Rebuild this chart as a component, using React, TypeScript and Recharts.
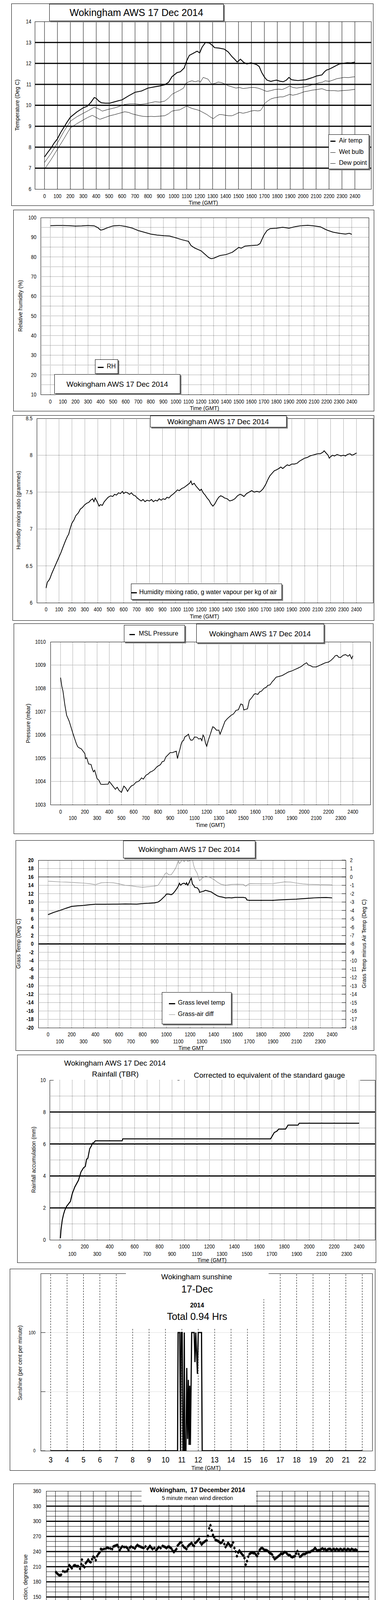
import React from 'react';
import { ComposedChart, Line, Scatter, XAxis, YAxis, ReferenceLine } from 'recharts';

const SANS = "'Liberation Sans',Arial,Helvetica,sans-serif";
const NARROW_SCALE = 0.82;

type P = [number, number];

function steps(a: number, b: number, s: number): number[] {
  const out: number[] = [];
  for (let i = 0; a + i * s <= b + 1e-9; i++) out.push(Math.round((a + i * s) * 1000) / 1000);
  return out;
}

// ---------- tick / grid positions ----------
const HUNDREDS = steps(0, 2400, 100);
const TEMP_TICKS = steps(6, 14, 1);
const TEMP_THICK = steps(7, 13, 1);
const RH_TICKS = steps(10, 100, 10);
const RH_GRID = steps(15, 95, 5);
const MIX_TICKS = steps(6, 8.5, 0.5);
const MIX_GRID = steps(6.5, 8, 0.5);
const PRES_TICKS = steps(1003, 1010, 1);
const PRES_GRID = steps(1004, 1009, 1);
const GRASS_TICKS = steps(-20, 20, 2);
const GRASS_GRID = steps(-18, 18, 2);
const DIFF_TICKS = steps(-18, 2, 1);
const RAIN_TICKS = steps(0, 10, 2);
const RAIN_THICK = [2, 4, 6, 8];
const RAIN_DOTTED = [1, 3, 5, 7, 9];
const SUN_HOURS = steps(3, 22, 1);
const SUN_TICKS = [0, 50, 100];
const DIR_HOURS = steps(0, 24, 1);
const DIR_TICKS = steps(0, 360, 30);
const DIR_THIN = steps(10, 350, 10);
const DIR_THICK = steps(30, 330, 30);
const SPD_HOURS = steps(0, 23, 1);
const SPD_GRID_HOURS = steps(0, 24, 1);
const SPD_TICKS = steps(0, 50, 10);
const SPD_GRID = steps(5, 45, 5);

// ---------- data ----------
const AIR_TEMP: P[] = [[0,7.53],[25,7.75],[50,7.95],[75,8.2],[100,8.4],[125,8.7],[150,8.95],[175,9.2],[200,9.43],[250,9.68],[300,9.88],[330,9.95],[360,10.15],[385,10.37],[400,10.33],[420,10.2],[440,10.12],[470,10.1],[505,10.1],[550,10.18],[600,10.26],[650,10.45],[700,10.62],[750,10.68],[800,10.82],[850,10.88],[890,10.92],[930,10.98],[960,11.1],[985,11.36],[1025,11.56],[1050,11.6],[1080,11.78],[1100,12.13],[1120,12.38],[1150,12.48],[1180,12.58],[1200,12.5],[1218,12.77],[1245,13.0],[1275,12.97],[1300,12.85],[1315,12.75],[1350,12.73],[1390,12.68],[1420,12.55],[1450,12.32],[1470,12.2],[1490,12.06],[1515,12.2],[1540,12.05],[1565,11.97],[1595,12.03],[1620,11.98],[1640,11.94],[1660,11.85],[1680,11.56],[1700,11.35],[1720,11.2],[1750,11.14],[1775,11.18],[1795,11.2],[1820,11.15],[1845,11.12],[1870,11.2],[1890,11.33],[1910,11.22],[1930,11.2],[1960,11.18],[1990,11.2],[2020,11.22],[2045,11.27],[2075,11.33],[2105,11.4],[2145,11.45],[2165,11.6],[2180,11.68],[2200,11.72],[2220,11.78],[2250,11.88],[2280,11.97],[2310,12.0],[2340,12.03],[2370,12.02],[2400,12.06]];
const WET_BULB: P[] = [[0,7.27],[50,7.7],[100,8.2],[150,8.75],[200,9.24],[250,9.45],[300,9.62],[340,9.75],[385,9.91],[420,9.82],[447,9.72],[490,9.8],[545,9.88],[580,9.95],[620,10.04],[660,10.07],[700,10.07],[740,10.04],[780,10.07],[820,10.12],[855,10.17],[890,10.15],[930,10.2],[960,10.35],[985,10.52],[1015,10.62],[1045,10.71],[1075,10.82],[1092,11.04],[1115,11.12],[1140,11.17],[1165,11.12],[1190,11.17],[1205,11.1],[1227,11.33],[1250,11.28],[1266,11.24],[1280,11.1],[1295,11.01],[1320,11.05],[1343,11.11],[1370,11.08],[1400,11.0],[1425,10.92],[1450,10.88],[1480,10.82],[1507,10.85],[1535,10.8],[1565,10.82],[1595,10.85],[1622,10.85],[1650,10.82],[1680,10.76],[1700,10.7],[1720,10.66],[1750,10.7],[1780,10.75],[1810,10.77],[1837,10.75],[1865,10.82],[1895,10.92],[1920,10.85],[1950,10.82],[1980,10.85],[2010,10.88],[2040,10.92],[2068,10.98],[2100,11.03],[2125,11.08],[2150,11.1],[2170,11.17],[2200,11.14],[2230,11.2],[2260,11.27],[2290,11.3],[2315,11.33],[2350,11.32],[2380,11.35],[2400,11.36]];
const DEW_POINT: P[] = [[0,6.95],[50,7.4],[100,7.9],[150,8.4],[200,8.92],[250,9.12],[300,9.3],[335,9.42],[370,9.52],[400,9.42],[428,9.33],[470,9.42],[505,9.5],[540,9.55],[580,9.62],[620,9.69],[650,9.66],[678,9.59],[710,9.54],[735,9.5],[765,9.47],[795,9.46],[825,9.47],[850,9.46],[890,9.48],[930,9.5],[960,9.6],[985,9.72],[1015,9.76],[1045,9.78],[1075,9.88],[1100,9.97],[1120,9.9],[1140,9.85],[1170,9.8],[1198,9.75],[1225,9.66],[1255,9.56],[1280,9.45],[1305,9.36],[1330,9.48],[1352,9.56],[1375,9.55],[1400,9.52],[1425,9.5],[1450,9.5],[1480,9.58],[1507,9.66],[1535,9.62],[1565,9.66],[1595,9.72],[1622,9.75],[1650,9.73],[1670,9.75],[1685,9.88],[1700,10.07],[1725,10.2],[1750,10.3],[1775,10.35],[1795,10.37],[1820,10.4],[1845,10.4],[1870,10.46],[1895,10.52],[1920,10.48],[1950,10.52],[1980,10.58],[2010,10.65],[2040,10.68],[2068,10.72],[2105,10.75],[2145,10.79],[2160,10.76],[2180,10.71],[2210,10.7],[2240,10.7],[2270,10.68],[2300,10.7],[2350,10.72],[2400,10.76]];

const RH: P[] = [[0,95.9],[50,96.0],[100,96.0],[150,95.9],[200,95.7],[250,95.8],[300,96.0],[350,95.8],[380,94.8],[400,93.6],[420,93.9],[450,94.7],[500,95.8],[550,96.0],[600,95.5],[650,94.7],[700,93.4],[750,92.5],[800,91.6],[850,91.1],[900,90.8],[950,90.6],[1000,89.7],[1050,88.7],[1100,87.9],[1120,85.8],[1150,84.5],[1200,83.1],[1230,81.4],[1260,79.7],[1280,79.1],[1300,79.3],[1350,80.7],[1400,81.2],[1450,82.4],[1500,84.8],[1520,84.4],[1550,85.5],[1600,85.8],[1650,86.0],[1670,86.8],[1700,91.0],[1725,93.4],[1750,94.4],[1800,94.6],[1850,95.1],[1900,94.6],[1950,95.4],[2000,95.9],[2050,96.1],[2100,95.8],[2150,95.3],[2200,93.7],[2250,92.6],[2300,92.0],[2350,91.6],[2380,92.0],[2400,91.5]];

const MIXING: P[] = [[0,6.2],[10,6.28],[20,6.3],[30,6.33],[45,6.4],[60,6.46],[75,6.52],[90,6.58],[100,6.62],[115,6.68],[130,6.75],[150,6.84],[165,6.9],[175,6.93],[185,7.0],[200,7.08],[215,7.12],[230,7.18],[250,7.22],[265,7.27],[280,7.29],[300,7.33],[315,7.35],[330,7.36],[345,7.39],[360,7.41],[370,7.37],[380,7.42],[392,7.38],[400,7.35],[410,7.31],[420,7.33],[435,7.32],[450,7.37],[465,7.4],[480,7.43],[500,7.45],[515,7.44],[530,7.47],[545,7.46],[560,7.49],[575,7.48],[590,7.51],[600,7.48],[615,7.5],[630,7.49],[645,7.47],[660,7.49],[675,7.46],[690,7.45],[705,7.42],[720,7.4],[735,7.38],[750,7.4],[765,7.37],[780,7.39],[800,7.38],[815,7.4],[830,7.37],[845,7.39],[860,7.38],[875,7.41],[890,7.39],[905,7.41],[920,7.4],[935,7.43],[950,7.42],[965,7.45],[980,7.47],[1000,7.5],[1015,7.53],[1030,7.52],[1050,7.55],[1065,7.56],[1080,7.58],[1095,7.6],[1110,7.62],[1120,7.65],[1130,7.6],[1145,7.62],[1160,7.58],[1175,7.55],[1190,7.52],[1200,7.54],[1215,7.49],[1230,7.46],[1245,7.42],[1260,7.39],[1275,7.34],[1290,7.31],[1305,7.34],[1320,7.39],[1335,7.43],[1350,7.45],[1365,7.44],[1380,7.42],[1400,7.41],[1420,7.38],[1440,7.39],[1460,7.41],[1480,7.45],[1500,7.47],[1515,7.46],[1530,7.44],[1550,7.48],[1570,7.5],[1590,7.52],[1610,7.5],[1630,7.51],[1650,7.5],[1665,7.52],[1680,7.55],[1700,7.61],[1715,7.67],[1730,7.72],[1750,7.76],[1765,7.79],[1780,7.8],[1800,7.82],[1815,7.84],[1830,7.82],[1850,7.85],[1865,7.87],[1880,7.86],[1900,7.88],[1920,7.88],[1940,7.89],[1960,7.92],[1980,7.94],[2000,7.96],[2020,7.97],[2040,7.99],[2060,8.0],[2080,8.01],[2100,8.02],[2120,8.02],[2140,8.04],[2150,8.06],[2165,8.03],[2180,8.0],[2190,7.96],[2200,7.98],[2215,8.0],[2230,7.99],[2250,8.01],[2265,8.0],[2280,7.99],[2300,8.0],[2315,7.99],[2330,8.01],[2350,8.02],[2365,8.0],[2380,8.01],[2400,8.03]];

const PRESSURE: P[] = [[0,1008.46],[10,1008.1],[20,1007.88],[35,1007.3],[50,1006.84],[60,1006.72],[70,1006.6],[85,1006.35],[100,1006.09],[115,1005.85],[130,1005.62],[140,1005.5],[150,1005.45],[170,1005.4],[185,1005.3],[200,1005.19],[205,1004.98],[215,1005.02],[230,1004.75],[250,1004.73],[260,1004.55],[270,1004.41],[280,1004.48],[300,1004.12],[315,1004.05],[330,1003.88],[350,1003.87],[370,1003.88],[390,1003.88],[400,1004.0],[415,1003.9],[430,1003.8],[450,1003.66],[465,1003.75],[480,1003.62],[500,1003.53],[520,1003.8],[535,1003.72],[550,1003.57],[565,1003.7],[580,1003.8],[600,1003.85],[620,1003.97],[640,1004.0],[650,1004.05],[665,1004.15],[680,1004.1],[700,1004.26],[720,1004.32],[735,1004.4],[750,1004.43],[770,1004.5],[790,1004.62],[800,1004.66],[820,1004.72],[835,1004.85],[850,1004.87],[865,1005.05],[880,1005.13],[900,1005.24],[920,1005.24],[940,1005.28],[950,1005.3],[960,1004.98],[970,1005.2],[980,1005.38],[990,1005.6],[1000,1005.73],[1010,1005.76],[1020,1005.91],[1040,1005.98],[1050,1006.03],[1060,1005.85],[1070,1005.77],[1085,1005.78],[1100,1005.91],[1120,1005.9],[1135,1005.82],[1150,1005.85],[1160,1005.75],[1170,1006.0],[1180,1005.9],[1190,1005.65],[1200,1005.51],[1215,1005.8],[1230,1006.03],[1240,1006.2],[1250,1006.35],[1265,1006.3],[1280,1006.2],[1300,1006.2],[1310,1006.03],[1330,1006.3],[1350,1006.58],[1370,1006.7],[1400,1006.84],[1420,1006.9],[1440,1007.05],[1460,1007.08],[1480,1007.33],[1495,1007.3],[1505,1007.07],[1520,1007.1],[1535,1007.12],[1550,1007.48],[1570,1007.6],[1590,1007.75],[1600,1007.77],[1620,1007.74],[1635,1007.85],[1650,1007.88],[1670,1008.0],[1690,1008.05],[1700,1008.12],[1720,1008.15],[1740,1008.3],[1750,1008.35],[1770,1008.48],[1800,1008.52],[1820,1008.55],[1850,1008.64],[1870,1008.7],[1900,1008.75],[1920,1008.8],[1950,1008.87],[1980,1008.95],[2000,1009.04],[2020,1009.1],[2035,1009.0],[2050,1008.98],[2070,1008.92],[2100,1008.92],[2125,1008.98],[2150,1009.04],[2175,1009.1],[2200,1009.13],[2220,1009.2],[2240,1009.3],[2255,1009.4],[2270,1009.42],[2285,1009.33],[2300,1009.33],[2320,1009.42],[2340,1009.45],[2360,1009.38],[2375,1009.45],[2390,1009.27],[2400,1009.4]];

const GRASS: P[] = [[0,7.0],[50,7.55],[100,8.0],[150,8.5],[200,8.96],[250,9.1],[300,9.2],[350,9.36],[400,9.48],[450,9.47],[500,9.48],[550,9.5],[600,9.5],[650,9.55],[700,9.52],[750,9.5],[800,9.64],[850,9.7],[900,9.8],[930,10.0],[950,10.4],[970,10.95],[990,11.5],[1000,11.92],[1020,11.9],[1040,11.75],[1055,12.0],[1070,12.5],[1090,13.3],[1100,13.8],[1110,14.5],[1120,14.0],[1135,14.4],[1150,14.5],[1165,14.2],[1170,14.6],[1180,14.0],[1195,14.8],[1200,15.2],[1210,15.7],[1220,14.3],[1230,14.0],[1240,13.5],[1260,13.4],[1275,12.9],[1280,12.3],[1300,12.5],[1315,12.6],[1330,12.8],[1350,12.65],[1380,12.4],[1400,12.0],[1430,11.5],[1450,11.3],[1470,11.2],[1500,11.0],[1530,11.05],[1550,11.0],[1580,11.1],[1600,11.1],[1650,11.1],[1670,11.0],[1680,10.5],[1700,10.4],[1800,10.4],[1900,10.4],[1950,10.5],[2000,10.57],[2100,10.7],[2150,10.8],[2200,10.9],[2250,11.0],[2300,11.06],[2350,11.08],[2400,11.0]];
const GRASS_DIFF: P[] = [[0,-0.51],[50,-0.55],[100,-0.6],[150,-0.62],[200,-0.65],[250,-0.7],[300,-0.74],[350,-0.8],[400,-0.92],[450,-0.7],[500,-0.67],[550,-0.7],[600,-0.83],[650,-1.0],[700,-1.06],[750,-1.16],[800,-1.23],[850,-1.16],[900,-1.1],[930,-1.0],[950,-0.54],[970,-0.13],[985,0.3],[1000,0.52],[1020,0.25],[1040,0.25],[1060,0.64],[1080,1.1],[1100,1.92],[1110,1.6],[1120,1.75],[1135,2.1],[1150,1.8],[1165,2.1],[1180,1.85],[1200,1.95],[1220,2.1],[1230,1.4],[1240,0.93],[1260,0.44],[1280,-0.46],[1300,-0.18],[1330,0.11],[1360,-0.02],[1400,-0.3],[1430,-0.62],[1460,-0.87],[1500,-1.0],[1550,-0.9],[1600,-0.87],[1650,-0.9],[1670,-1.11],[1700,-0.79],[1750,-0.8],[1800,-0.8],[1900,-0.79],[2000,-0.59],[2050,-0.62],[2100,-0.74],[2150,-0.83],[2200,-0.88],[2300,-0.92],[2400,-0.95]];

const RAIN: P[] = [[5,0.1],[10,0.64],[20,1.24],[30,1.59],[40,1.85],[55,2.1],[70,2.25],[85,2.4],[100,2.88],[120,3.3],[150,3.73],[170,4.25],[190,4.5],[205,4.6],[215,5.05],[225,5.1],[240,5.7],[255,5.9],[262,6.05],[275,6.1],[285,6.2],[500,6.2],[505,6.32],[1690,6.32],[1700,6.45],[1720,6.72],[1740,6.8],[1755,6.93],[1810,6.93],[1820,7.05],[1830,7.18],[1910,7.18],[1920,7.3],[2400,7.3]];

const SUNSHINE: P[] = [[3,0],[10.74,0],[10.75,42],[10.77,100],[10.87,100],[10.92,0],[10.96,100],[11.02,100],[11.07,0],[11.12,0],[11.15,100],[11.18,0],[11.25,0],[11.3,70],[11.35,10],[11.4,60],[11.44,5],[11.48,55],[11.52,5],[11.6,100],[11.75,100],[11.8,75],[11.85,100],[11.95,65],[12.0,100],[12.2,100],[12.21,72],[12.24,0],[22,0]];

const WIND_DIR: P[] = [[0.05,199],[0.15,196],[0.25,194],[0.35,193],[0.45,194],[0.6,201],[0.75,200],[0.9,201],[1.0,205],[1.1,213],[1.2,210],[1.3,207],[1.45,212],[1.55,213],[1.7,211],[1.8,211],[1.95,206],[2.05,215],[2.1,224],[2.2,212],[2.3,209],[2.4,217],[2.5,220],[2.6,224],[2.7,220],[2.8,219],[2.9,225],[3.0,230],[3.1,228],[3.2,223],[3.3,231],[3.4,235],[3.5,238],[3.6,245],[3.7,244],[3.85,245],[4.0,246],[4.1,248],[4.2,247],[4.35,246],[4.5,245],[4.6,250],[4.7,251],[4.8,252],[4.9,253],[5.0,249],[5.1,243],[5.2,247],[5.3,250],[5.45,249],[5.6,249],[5.7,247],[5.8,243],[5.9,248],[6.0,250],[6.15,248],[6.3,246],[6.4,250],[6.5,253],[6.6,251],[6.7,250],[6.8,249],[6.9,248],[7.0,247],[7.15,250],[7.3,245],[7.4,248],[7.5,251],[7.6,248],[7.7,245],[7.85,247],[8.0,243],[8.1,246],[8.2,249],[8.35,247],[8.5,251],[8.6,250],[8.7,249],[8.8,247],[8.9,249],[9.0,250],[9.1,248],[9.2,246],[9.3,242],[9.4,239],[9.5,242],[9.6,245],[9.7,252],[9.8,255],[9.9,258],[10.0,258],[10.1,252],[10.2,249],[10.3,247],[10.4,245],[10.5,250],[10.6,253],[10.7,255],[10.8,257],[10.9,253],[11.0,251],[11.1,257],[11.2,259],[11.3,262],[11.4,265],[11.5,258],[11.6,254],[11.7,257],[11.8,259],[11.9,261],[12.0,262],[12.1,271],[12.2,286],[12.3,292],[12.4,282],[12.5,273],[12.6,268],[12.7,263],[12.8,262],[12.9,261],[13.0,259],[13.1,257],[13.2,258],[13.3,262],[13.4,255],[13.5,249],[13.6,253],[13.7,257],[13.8,254],[13.9,250],[14.0,253],[14.1,258],[14.2,247],[14.3,240],[14.4,231],[14.5,238],[14.6,242],[14.7,238],[14.8,235],[14.9,232],[15.0,227],[15.1,214],[15.2,221],[15.3,230],[15.4,235],[15.5,237],[15.6,238],[15.7,237],[15.8,237],[15.9,234],[16.0,231],[16.1,236],[16.2,243],[16.3,246],[16.4,247],[16.5,245],[16.6,243],[16.7,243],[16.8,242],[16.9,240],[17.0,237],[17.1,236],[17.2,234],[17.3,229],[17.4,225],[17.5,227],[17.6,229],[17.7,231],[17.8,233],[17.9,236],[18.0,235],[18.1,237],[18.2,239],[18.3,238],[18.4,235],[18.5,233],[18.6,233],[18.7,230],[18.8,229],[18.9,230],[19.0,231],[19.1,236],[19.2,241],[19.3,235],[19.4,230],[19.5,231],[19.6,234],[19.7,235],[19.8,235],[19.9,237],[20.0,238],[20.1,239],[20.2,239],[20.3,241],[20.4,242],[20.5,244],[20.6,247],[20.7,244],[20.8,242],[20.9,243],[21.0,243],[21.1,245],[21.2,246],[21.3,244],[21.4,245],[21.5,242],[21.6,244],[21.7,245],[21.8,245],[21.9,243],[22.0,244],[22.1,245],[22.2,243],[22.3,245],[22.4,244],[22.5,243],[22.6,245],[22.7,244],[22.8,243],[22.9,245],[23.0,244],[23.1,243],[23.2,245],[23.3,244],[23.4,243],[23.5,245],[23.6,244],[23.7,243],[23.8,244],[23.9,243]];

const WIND_MEAN: P[] = [[0.0,9.0],[0.2,9.3],[0.3,10.5],[0.5,10.2],[0.7,11.6],[0.9,12.2],[1.0,11.6],[1.2,11.5],[1.4,11.6],[1.6,12.5],[1.8,11.6],[2.0,9.9],[2.2,9.3],[2.4,8.7],[2.6,9.3],[2.8,9.0],[3.0,9.9],[3.2,9.3],[3.4,8.9],[3.6,8.7],[3.8,9.9],[4.0,10.5],[4.2,11.1],[4.4,11.5],[4.6,11.1],[4.8,10.5],[5.0,10.2],[5.2,9.6],[5.4,9.1],[5.6,8.7],[5.8,9.3],[6.0,9.9],[6.2,10.2],[6.4,10.2],[6.6,9.9],[6.8,9.3],[7.0,9.6],[7.2,9.1],[7.4,8.7],[7.6,8.5],[7.8,8.7],[8.0,9.0],[8.2,8.1],[8.4,7.5],[8.6,7.7],[8.8,7.8],[9.0,7.5],[9.2,7.8],[9.4,8.7],[9.6,9.6],[9.8,9.9],[10.0,9.0],[10.2,7.5],[10.4,7.8],[10.6,9.3],[10.8,10.2],[11.0,10.2],[11.2,10.8],[11.4,8.7],[11.6,9.9],[11.8,12.8],[12.0,13.1],[12.2,10.8],[12.4,7.2],[12.6,5.8],[12.8,8.7],[13.0,7.2],[13.2,9.3],[13.4,6.6],[13.6,5.1],[13.8,4.9],[14.0,6.1],[14.2,5.5],[14.4,4.6],[14.6,5.5],[14.8,6.1],[15.0,5.8],[15.2,4.9],[15.4,3.7],[15.6,4.6],[15.8,6.4],[16.0,6.9],[16.2,7.5],[16.4,7.8],[16.6,7.5],[16.8,7.2],[17.0,8.1],[17.2,9.0],[17.4,8.4],[17.6,7.2],[17.8,6.9],[18.0,4.9],[18.2,5.5],[18.4,6.6],[18.6,7.8],[18.8,8.7],[19.0,9.0],[19.2,9.9],[19.4,10.5],[19.6,9.9],[19.8,9.6],[20.0,9.3],[20.2,9.0],[20.4,9.9],[20.6,10.8],[20.8,9.9],[21.0,8.7],[21.2,9.3],[21.4,8.4],[21.6,7.8],[21.8,9.0],[22.0,9.9],[22.2,10.5],[22.4,10.8],[22.6,11.1],[22.8,10.2],[23.0,9.6],[23.2,9.0],[23.4,8.7],[23.6,9.3],[23.8,11.1],[23.9,10.2],[24.0,10.2]];

// max gust, 10-minute samples, one row per hour
const GUST_10MIN: number[] = [
  10,18,12,17,13,16,22,25.5,14,20,
  14,17,13,21,14,18,15,17,12,16,
  10,17,9,14,11,15,8,13,10,14,
  9,15,10,14,9,16,11,13,10,15,
  12,18,11,17,12,16,13,15,12,17,
  11,15,10,14,9,13,10,16,12,14,
  10,17,11,15,10,14,11,16,10,13,
  9,14,10,13,9,12,10,13,9,14,
  8,12,9,13,8,11,9,12,8,13,
  9,14,10,13,8,12,11,15,10,14,
  9,15,11,16,10,14,12,17,11,15,
  10,16,12,17,11,15,13,19,18,21.5,
  17,12,9,15,7,13,10,17,9,14,
  6,11,7,10,5,9,6,10,5,8,
  6,9,5,10,6,8,5,9,4.5,8,
  6,10,5,9,4,8,6,10,7,11,
  7,11,8,12,7,10,8,12,9,13,
  8,12,9,11,7,10,8,12,9,10,
  3.5,8,5,9,7,10,8,11,9,15,
  10,16,11,15,10,14,12,16,11,15,
  10,15,11,16,12,14,10,15,11,16,
  9,14,10,15,11,16,10,14,11,15,
  12,17,13,18,12,19,13,17,12,16,
  11,16,12,15,10,17,11,16,13,14,
];
const WIND_DIV10: P[] = [[15.4,39.6],[15.5,38.8],[15.4,38.1],[15.48,37.1],[15.44,36.4],[15.44,35.9]];

const pts = (a: P[]) => a.map(([t, v]) => ({ t, v }));
const gustPts = GUST_10MIN.map((v, i) => ({ t: i / 10, v }));

// ---------- helpers ----------
function xTick(fmt: (v: number) => string, dy: (v: number) => number, size = 15, sx = NARROW_SCALE, weight = 'normal') {
  return (p: any) => (
    <text transform={`translate(${p.x},${p.y + dy(p.payload.value)}) scale(${sx},1)`} x={0} y={0} textAnchor="middle" dominantBaseline="central" fontSize={size} fontFamily={SANS} fontWeight={weight} fill="#000">
      {fmt(p.payload.value)}
    </text>
  );
}
function yTick(fmt: (v: number) => string, gap: number, size = 15, sx = NARROW_SCALE, weight = 'normal', side = 'left', mark = 0) {
  return (p: any) => (
    <g>
      {mark ? <line x1={p.x} x2={p.x + mark} y1={p.y} y2={p.y} stroke="#000" strokeWidth={1} /> : null}
      <text transform={`translate(${side === 'left' ? p.x - gap : p.x + gap},${p.y}) scale(${sx},1)`} x={0} y={0} textAnchor={side === 'left' ? 'end' : 'start'} dominantBaseline="central" fontSize={size} fontFamily={SANS} fontWeight={weight} fill="#000">
        {fmt(p.payload.value)}
      </text>
    </g>
  );
}
const num = (v: number) => String(v);

function xa(domain: number[], ticks: number[], tick: any, height = 60) {
  return { type: 'number' as const, dataKey: 't', domain, ticks, tick, interval: 0, axisLine: false, tickLine: false, tickSize: 0, tickMargin: 0, allowDataOverflow: true, height };
}
function ya(domain: number[], ticks: number[], tick: any, width = 60) {
  return { type: 'number' as const, dataKey: 'v', domain, ticks, tick, interval: 0, axisLine: false, tickLine: false, tickSize: 0, tickMargin: 0, allowDataOverflow: true, width };
}

const MT = 14;
function Chart({ l, t, r, b, yw = 60, rw = 0, xh = 60, children }: any) {
  const W = r - l + yw + rw;
  const H = b - t + xh + MT;
  return (
    <div style={{ position: 'absolute', left: l - yw, top: t - MT, width: W, height: H }}>
      <ComposedChart width={W} height={H} margin={{ top: MT, right: 0, bottom: 0, left: 0 }}>
        {children}
      </ComposedChart>
    </div>
  );
}

const Frame = ({ x1, y1, x2, y2 }: any) => (
  <div style={{ position: 'absolute', left: x1, top: y1, width: x2 - x1, height: y2 - y1, border: '1px solid #000', boxSizing: 'border-box' }} />
);
const Border = ({ l, t, r, b, top = true }: any) => (
  <div style={{ position: 'absolute', left: l, top: t, width: r - l + 1, height: b - t + 1, borderLeft: '1px solid #000', borderRight: '1px solid #000', borderBottom: '1px solid #000', borderTop: top ? '1px solid #000' : 'none', boxSizing: 'border-box' }} />
);
const HSeg = ({ x1, x2, y, w = 1, color = '#000' }: any) => (
  <div style={{ position: 'absolute', left: x1, top: y - w / 2, width: x2 - x1, height: w, background: color }} />
);
const Box = ({ x1, y1, x2, y2, shadow = true }: any) => (
  <div style={{ position: 'absolute', left: x1, top: y1, width: x2 - x1, height: y2 - y1, border: '1px solid #000', background: '#fff', boxShadow: shadow ? '3px 3px 0 #7a7a7a' : 'none', boxSizing: 'border-box' }} />
);
const Mask = ({ x1, y1, x2, y2 }: any) => (
  <div style={{ position: 'absolute', left: x1, top: y1, width: x2 - x1, height: y2 - y1, background: '#fff' }} />
);
const T = ({ x, y, s = 14, b = false, rot = false, anchor = 'middle', children }: any) => (
  <div
    style={{
      position: 'absolute', left: x, top: y,
      transform: `translate(${anchor === 'start' ? '0' : '-50%'},-50%)${rot ? ' rotate(-90deg)' : ''}`,
      fontSize: s, fontFamily: SANS, fontWeight: b ? 'bold' : 'normal', whiteSpace: 'pre', lineHeight: 1, color: '#000',
    }}
  >
    {children}
  </div>
);

const lineProps = { type: 'linear' as const, dataKey: 'v', dot: false, activeDot: false, isAnimationActive: false };
const dotted = { stroke: '#000', strokeWidth: 1, strokeDasharray: '1 2' };

const DirDiamond = (p: any) => (
  <polygon points={`${p.cx},${p.cy - 4.5} ${p.cx + 3.5},${p.cy} ${p.cx},${p.cy + 4.5} ${p.cx - 3.5},${p.cy}`} fill="#000" />
);
const GrayDiamond = (p: any) => (
  <polygon points={`${p.cx},${p.cy - 5} ${p.cx + 4},${p.cy} ${p.cx},${p.cy + 5} ${p.cx - 4},${p.cy}`} fill="#c8c8c8" stroke="#000" strokeWidth={0.8} />
);

const evenOdd = (a: number, b: number, unit: number) => (v: number) => (Math.round(v / unit) % 2 === 0 ? a : b);
const hh = (v: number) => (v < 10 ? '0' + v : String(v)) + ':00';

export default function App() {
  return (
    <div style={{ position: 'relative', width: 1000, height: 5000, margin: '-8px 0 0 -8px', background: '#fff', overflow: 'hidden' }}>
      {/* ===== Panel 1: temperatures ===== */}
      <Frame x1={29} y1={9} x2={955} y2={527} />
      <Chart l={89} t={55} r={949} b={484}>
        <XAxis {...xa([-75, 2525], HUNDREDS, xTick(num, () => 18))} />
        <YAxis {...ya([6, 14], TEMP_TICKS, yTick(num, 9))} />
        {HUNDREDS.map((v) => <ReferenceLine key={'a' + v} x={v} stroke="#000" strokeWidth={1} />)}
        {TEMP_THICK.map((v) => <ReferenceLine key={'b' + v} y={v} stroke="#000" strokeWidth={3} />)}
        <Line {...lineProps} data={pts(DEW_POINT)} stroke="#000" strokeWidth={1} />
        <Line {...lineProps} data={pts(WET_BULB)} stroke="#000" strokeWidth={1} />
        <Line {...lineProps} data={pts(AIR_TEMP)} stroke="#000" strokeWidth={2.2} />
      </Chart>
      <Border l={89} t={55} r={949} b={484} />
      <Box x1={126} y1={10} x2={572} y2={54} />
      <T x={349} y={32} s={25}>Wokingham AWS 17 Dec 2014</T>
      <T x={44} y={269} s={14} rot>Temperature (Deg C)</T>
      <T x={520} y={519} s={14}>Time (GMT)</T>
      <Box x1={840} y1={344} x2={944} y2={433} />
      <HSeg x1={845} x2={858} y={361} w={3} />
      <T x={867} y={360} s={16} anchor="start">Air temp</T>
      <HSeg x1={845} x2={858} y={390} w={1} />
      <T x={867} y={389} s={16} anchor="start">Wet bulb</T>
      <HSeg x1={845} x2={858} y={418} w={1} />
      <T x={867} y={417} s={16} anchor="start">Dew point</T>

      {/* ===== Panel 2: relative humidity ===== */}
      <Frame x1={34} y1={537} x2={957} y2={1053} />
      <Chart l={104} t={557} r={943} b={1010}>
        <XAxis {...xa([-77, 2535], HUNDREDS, xTick(num, () => 18))} />
        <YAxis {...ya([10, 100], RH_TICKS, yTick(num, 11))} />
        {HUNDREDS.map((v) => <ReferenceLine key={'a' + v} x={v} {...dotted} />)}
        {RH_GRID.map((v) => <ReferenceLine key={'b' + v} y={v} {...dotted} />)}
        <Line {...lineProps} data={pts(RH)} stroke="#000" strokeWidth={2} />
      </Chart>
      <Border l={104} t={557} r={943} b={1010} />
      <T x={52} y={783} s={14} rot>Relative humidity (%)</T>
      <T x={523} y={1045} s={14}>Time (GMT)</T>
      <Box x1={243} y1={920} x2={302} y2={957} />
      <HSeg x1={250} x2={265} y={940} w={3} />
      <T x={273} y={938} s={16} anchor="start">RH</T>
      <Box x1={139} y1={958} x2={461} y2={1008} />
      <T x={300} y={983} s={19}>Wokingham AWS 17 Dec 2014</T>

      {/* ===== Panel 3: mixing ratio ===== */}
      <Frame x1={32} y1={1063} x2={957} y2={1589} />
      <Chart l={94} t={1071} r={954} b={1543}>
        <XAxis {...xa([-72, 2528], HUNDREDS, xTick(num, () => 17))} />
        <YAxis {...ya([6, 8.5], MIX_TICKS, yTick(num, 11))} />
        {HUNDREDS.map((v) => <ReferenceLine key={'a' + v} x={v} {...dotted} />)}
        {MIX_GRID.map((v) => <ReferenceLine key={'b' + v} y={v} {...dotted} />)}
        <Line {...lineProps} data={pts(MIXING)} stroke="#000" strokeWidth={2} />
      </Chart>
      <Border l={94} t={1071} r={954} b={1543} />
      <Box x1={384} y1={1064} x2={733} y2={1094} />
      <T x={558} y={1079} s={19}>Wokingham AWS 17 Dec 2014</T>
      <Box x1={335} y1={1494} x2={721} y2={1535} />
      <HSeg x1={336} x2={350} y={1517} w={3} />
      <T x={356} y={1516} s={16} anchor="start">Humidity mixing ratio, g water vapour per kg of air</T>
      <T x={47} y={1306} s={14} rot>Humidity mixing ratio (grammes)</T>
      <T x={523} y={1578} s={14}>Time (GMT)</T>

      {/* ===== Panel 4: pressure ===== */}
      <Frame x1={35} y1={1596} x2={955} y2={2135} />
      <Chart l={129} t={1643} r={947} b={2060}>
        <XAxis {...xa([-83, 2543], HUNDREDS, xTick(num, evenOdd(18, 34, 100)))} />
        <YAxis {...ya([1003, 1010], PRES_TICKS, yTick(num, 12))} />
        {HUNDREDS.map((v) => <ReferenceLine key={'a' + v} x={v} {...dotted} />)}
        {PRES_GRID.map((v) => <ReferenceLine key={'b' + v} y={v} {...dotted} />)}
        <Line {...lineProps} data={pts(PRESSURE)} stroke="#000" strokeWidth={1.8} />
      </Chart>
      <Border l={129} t={1643} r={947} b={2060} />
      <Box x1={317} y1={1600} x2={473} y2={1644} />
      <HSeg x1={331} x2={345} y={1624} w={3} />
      <T x={355} y={1622} s={16} anchor="start">MSL Pressure</T>
      <Box x1={502} y1={1597} x2={829} y2={1646} />
      <T x={665} y={1622} s={19}>Wokingham AWS 17 Dec 2014</T>
      <T x={72} y={1852} s={14} rot>Pressure (mbar)</T>
      <T x={538} y={2112} s={14}>Time (GMT)</T>

      {/* ===== Panel 5: grass temperature ===== */}
      <Frame x1={40} y1={2151} x2={957} y2={2690} />
      <Chart l={98} t={2202} r={884} b={2631} rw={60}>
        <XAxis {...xa([-82, 2514], HUNDREDS, xTick(num, evenOdd(17, 35, 100)))} />
        <YAxis yAxisId="l" {...ya([-20, 20], GRASS_TICKS, yTick(num, 12, 14, 0.9, 'bold'))} />
        <YAxis yAxisId="r" orientation="right" {...ya([-18, 2], DIFF_TICKS, yTick(num, 11, 15, NARROW_SCALE, 'normal', 'right', -10))} />
        {HUNDREDS.map((v) => <ReferenceLine key={'a' + v} yAxisId="l" x={v} {...dotted} />)}
        {GRASS_GRID.filter((v) => v !== 0 && v !== 16).map((v) => <ReferenceLine key={'b' + v} yAxisId="l" y={v} {...dotted} />)}
        <ReferenceLine yAxisId="l" y={16} stroke="#000" strokeWidth={1.2} />
        <ReferenceLine yAxisId="l" y={0} stroke="#000" strokeWidth={3} />
        <Line {...lineProps} yAxisId="r" data={pts(GRASS_DIFF)} stroke="#8a8a8a" strokeWidth={1.2} />
        <Line {...lineProps} yAxisId="l" data={pts(GRASS)} stroke="#000" strokeWidth={2.2} />
      </Chart>
      <Border l={98} t={2202} r={884} b={2631} />
      <Box x1={315} y1={2152} x2={653} y2={2197} />
      <T x={484} y={2174} s={19}>Wokingham AWS 17 Dec 2014</T>
      <Box x1={414} y1={2540} x2={592} y2={2622} />
      <HSeg x1={432} x2={448} y={2569} w={3} />
      <T x={455} y={2567} s={16} anchor="start">Grass level temp</T>
      <HSeg x1={432} x2={448} y={2597} w={1} color="#8a8a8a" />
      <T x={455} y={2596} s={16} anchor="start">Grass-air diff</T>
      <T x={47} y={2416} s={14} rot>Grass Temp (Deg C)</T>
      <T x={931} y={2416} s={14} rot>Grass Temp minus Air Temp (Deg C)</T>
      <T x={489} y={2683} s={14}>Time GMT</T>

      {/* ===== Panel 6: rainfall ===== */}
      <Frame x1={44} y1={2700} x2={962} y2={3233} />
      <Chart l={127} t={2765} r={959} b={3174}>
        <XAxis {...xa([-81, 2527], HUNDREDS, xTick(num, evenOdd(17, 36, 100)))} />
        <YAxis {...ya([0, 10], RAIN_TICKS, yTick(num, 10))} />
        {HUNDREDS.map((v) => <ReferenceLine key={'a' + v} x={v} {...dotted} />)}
        {RAIN_DOTTED.map((v) => <ReferenceLine key={'b' + v} y={v} {...dotted} />)}
        {RAIN_THICK.map((v) => <ReferenceLine key={'c' + v} y={v} stroke="#000" strokeWidth={3} />)}
        <Line {...lineProps} data={pts(RAIN)} stroke="#000" strokeWidth={2.5} />
      </Chart>
      <Border l={127} t={2765} r={959} b={3174} top={false} />
      <HSeg x1={127} x2={137} y={2765} />
      <HSeg x1={454} x2={459} y={2765} />
      <HSeg x1={921} x2={959} y={2765} />
      <T x={294} y={2721} s={19}>Wokingham AWS 17 Dec 2014</T>
      <T x={295} y={2749} s={19}>Rainfall (TBR)</T>
      <T x={689} y={2752} s={19}>Corrected to equivalent of the standard gauge</T>
      <T x={86} y={2969} s={14} rot>Rainfall accumulation (mm)</T>
      <T x={542} y={3226} s={14}>Time (GMT)</T>

      {/* ===== Panel 7: sunshine ===== */}
      <Frame x1={25} y1={3248} x2={960} y2={3765} />
      <Chart l={104} t={3260} r={952} b={3714}>
        <XAxis {...xa([2.39, 22.61], SUN_HOURS, xTick(num, () => 23, 20, 0.9))} />
        <YAxis {...ya([0, 150], SUN_TICKS, yTick((v) => (v === 50 ? '' : String(v)), 13, 13, NARROW_SCALE, 'normal', 'left', 12))} />
        {SUN_HOURS.map((v) => <ReferenceLine key={'a' + v} x={v} stroke="#000" strokeWidth={1} strokeDasharray="4 3" />)}
        {[50, 100].map((v) => <ReferenceLine key={'b' + v} y={v} stroke="#999" strokeWidth={1} strokeDasharray="1 2" />)}
        <Line {...lineProps} data={pts(SUNSHINE)} stroke="#000" strokeWidth={3} />
      </Chart>
      <Mask x1={322} y1={3255} x2={687} y2={3326} />
      <Mask x1={338} y1={3326} x2={673} y2={3402} />
      <Border l={104} t={3260} r={952} b={3714} top={false} />
      <HSeg x1={104} x2={322} y={3260} />
      <HSeg x1={687} x2={952} y={3260} />
      <T x={503} y={3268} s={19}>Wokingham sunshine</T>
      <T x={504} y={3300} s={25}>17-Dec</T>
      <T x={504} y={3342} s={16} b>2014</T>
      <T x={504} y={3370} s={25}>Total 0.94 Hrs</T>
      <T x={51} y={3489} s={14} rot>Sunshine (per cent per minute)</T>
      <T x={527} y={3758} s={14}>Time (GMT)</T>

      {/* ===== Panel 8: wind direction ===== */}
      <Frame x1={34} y1={3798} x2={960} y2={4330} />
      <Chart l={118} t={3817} r={943} b={4282}>
        <XAxis {...xa([-0.74, 24.86], DIR_HOURS, xTick(num, () => 19))} />
        <YAxis {...ya([0, 360], DIR_TICKS, yTick(num, 13))} />
        {DIR_HOURS.map((v) => <ReferenceLine key={'a' + v} x={v} stroke="#000" strokeWidth={1} />)}
        {DIR_THIN.filter((v) => v % 30 !== 0).map((v) => <ReferenceLine key={'b' + v} y={v} stroke="#000" strokeWidth={1} />)}
        {DIR_THICK.map((v) => <ReferenceLine key={'c' + v} y={v} stroke="#000" strokeWidth={3} />)}
        <Scatter data={pts(WIND_DIR)} dataKey="v" shape={DirDiamond} isAnimationActive={false} />
      </Chart>
      <Border l={118} t={3817} r={943} b={4282} />
      <Mask x1={362} y1={3805} x2={655} y2={3852} />
      <T x={505} y={3815} s={16} b>{'Wokingham,  17 December 2014'}</T>
      <T x={505} y={3835} s={14}>5 minute mean wind direction</T>
      <T x={65} y={4050} s={14} rot>Direction, degrees true</T>
      <T x={529} y={4318} s={14}>Time (GMT)</T>

      {/* ===== Panel 9: wind speed ===== */}
      <Frame x1={35} y1={4348} x2={962} y2={4862} />
      <Chart l={94} t={4392} r={957} b={4788}>
        <XAxis {...xa([-0.73, 25.38], SPD_HOURS, xTick(hh, evenOdd(19, 34, 1)))} />
        <YAxis {...ya([0, 50], SPD_TICKS, yTick(num, 12))} />
        {SPD_GRID_HOURS.map((v) => <ReferenceLine key={'a' + v} x={v} {...dotted} />)}
        {SPD_GRID.map((v) => <ReferenceLine key={'b' + v} y={v} {...dotted} />)}
        <Line {...lineProps} data={gustPts} stroke="#555" strokeWidth={1} />
        <Line {...lineProps} data={pts(WIND_MEAN)} stroke="#000" strokeWidth={2} />
        <Scatter data={pts(WIND_DIV10)} dataKey="v" shape={GrayDiamond} isAnimationActive={false} />
      </Chart>
      <Border l={94} t={4392} r={957} b={4788} top={false} />
      <HSeg x1={94} x2={100} y={4392} />
      <HSeg x1={439} x2={957} y={4392} />
      <T x={268} y={4371} s={19}>{'Wokingham,  17 December 2014'}</T>
      <T x={579} y={4361} s={15}>Wind speed, 10 min mean / max gust</T>
      <T x={579} y={4378} s={15}>Speeds below 4 kt shown at x10 scale</T>
      <Box x1={733} y1={4354} x2={960} y2={4379} />
      <HSeg x1={768} x2={778} y={4369} w={3} />
      <T x={786} y={4368} s={10.5} anchor="start">Speed x 1</T>
      <svg style={{ position: 'absolute', left: 852, top: 4363, overflow: 'visible' }} width={12} height={12}>
        <polygon points="6,1 10,6 6,11 2,6" fill="#fff" stroke="#000" strokeWidth={0.8} />
      </svg>
      <T x={872} y={4368} s={10.5} anchor="start">Speed / 10</T>
      <T x={49} y={4591} s={14} rot>Speed (knots)</T>
      <T x={525} y={4840} s={14}>Time (GMT)</T>
    </div>
  );
}
